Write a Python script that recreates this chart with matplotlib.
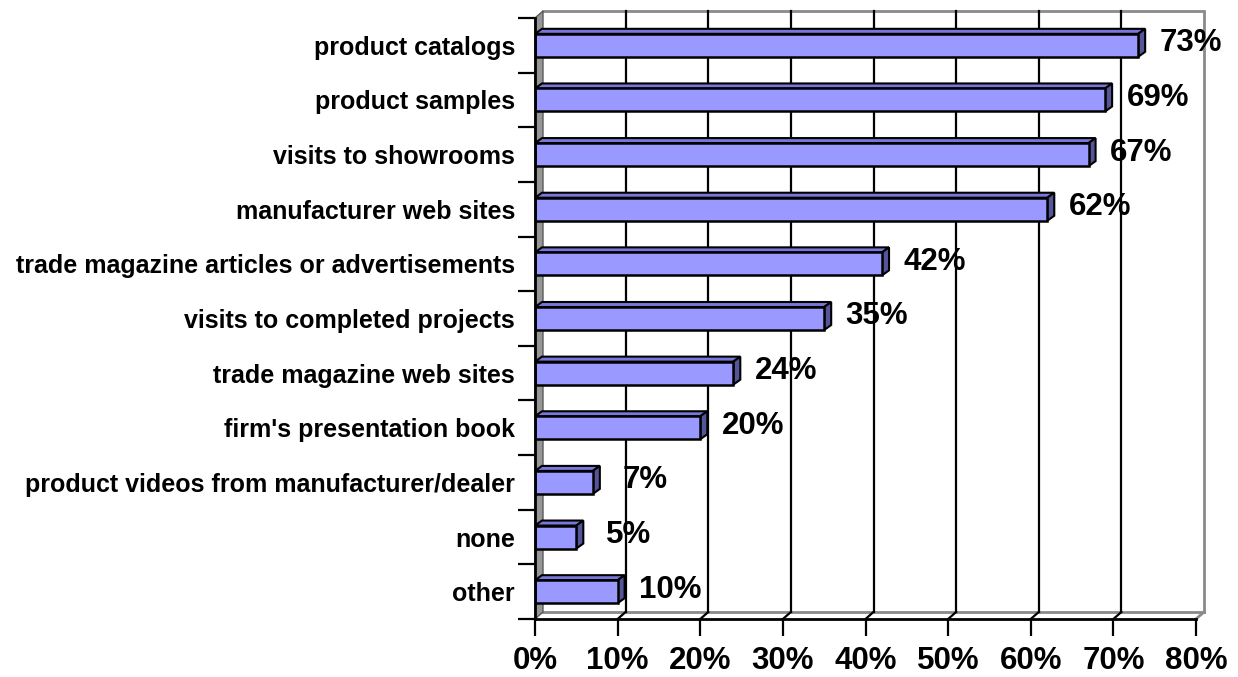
import matplotlib
matplotlib.use("Agg")
import matplotlib.pyplot as plt
from matplotlib.patches import Polygon, Rectangle

plt.rcParams['font.family'] = ['Liberation Sans', 'DejaVu Sans']
plt.rcParams['font.weight'] = 'bold'

categories = [
    "product catalogs",
    "product samples",
    "visits to showrooms",
    "manufacturer web sites",
    "trade magazine articles or advertisements",
    "visits to completed projects",
    "trade magazine web sites",
    "firm's presentation book",
    "product videos from manufacturer/dealer",
    "none",
    "other",
]
values = [73, 69, 67, 62, 42, 35, 24, 20, 7, 5, 10]
x_ticks = [0, 10, 20, 30, 40, 50, 60, 70, 80]
x_tick_labels = [f"{t}%" for t in x_ticks]

W, H = 1238, 677
fig = plt.figure(figsize=(W / 100, H / 100), dpi=100)
ax_l, ax_r, ax_t, ax_b = 535, 1196, 18, 619
ax = fig.add_axes([ax_l / W, (H - ax_b) / H, (ax_r - ax_l) / W, (ax_b - ax_t) / H])

n = len(categories)
xmax = 80
ax.set_xlim(0, xmax)
ax.set_ylim(0, n)

# pixel -> data unit conversion for the 3D depth offsets
sx = xmax / (ax_r - ax_l)
sy = n / (ax_b - ax_t)
wdx, wdy = 8 * sx, 7 * sy      # wall depth
bdx, bdy = 7 * sx, 5 * sy      # bar depth
half = 11.5 * sy               # half bar thickness

wall_grey = "#8a8a8a"

# back wall
ax.add_patch(Rectangle((wdx, wdy), xmax, n, facecolor="white", edgecolor="none",
                       zorder=0, clip_on=False))
ax.plot([wdx, xmax + wdx, xmax + wdx], [n + wdy, n + wdy, wdy], color=wall_grey,
        lw=2, zorder=1, clip_on=False, solid_joinstyle="miter")
ax.plot([wdx, xmax + wdx], [wdy, wdy], color=wall_grey, lw=2, zorder=1, clip_on=False)
ax.plot([xmax, xmax + wdx], [0, wdy], color=wall_grey, lw=2, zorder=1, clip_on=False)

# gridlines on the back wall and across the floor
for t in x_ticks[1:-1]:
    ax.plot([t + wdx, t + wdx], [wdy, n + wdy], color="black", lw=1.6, zorder=1.5,
            clip_on=False)
    ax.plot([t, t + wdx], [0, wdy], color="black", lw=1.6, zorder=1.5, clip_on=False)

# left side wall
ax.add_patch(Polygon([(0, 0), (wdx, wdy), (wdx, n + wdy), (0, n)], closed=True,
                     facecolor="#969696", edgecolor="#5a5a5a", lw=1, zorder=2,
                     clip_on=False))

# bars: front face plus top and side faces
ypos = [n - 1 - i + 0.5 for i in range(n)]
ax.barh(ypos, values, height=2 * half, color="#9999FF", edgecolor="black",
        linewidth=1.8, zorder=4)
for y, v in zip(ypos, values):
    top = y + half
    bot = y - half
    ax.add_patch(Polygon([(0, top), (v, top), (v + bdx, top + bdy), (bdx, top + bdy)],
                         closed=True, facecolor="#7878DC", edgecolor="black",
                         lw=1.5, zorder=3.5, clip_on=False))
    ax.add_patch(Polygon([(v, bot), (v, top), (v + bdx, top + bdy), (v + bdx, bot + bdy)],
                         closed=True, facecolor="#55559A", edgecolor="black",
                         lw=1.5, zorder=3.5, clip_on=False))
    ax.annotate(f"{v}%", xy=(v, y), xytext=(38, 1.5), textcoords="offset points",
                ha="center", va="center", fontsize=22.5, fontweight="bold",
                zorder=6, annotation_clip=False)

# axes, ticks and labels
for side in ("top", "right"):
    ax.spines[side].set_visible(False)
for side in ("left", "bottom"):
    ax.spines[side].set_linewidth(2)
    ax.spines[side].set_zorder(5)

ax.set_xticks(x_ticks)
ax.set_xticklabels(x_tick_labels, fontsize=22.5, fontweight="bold")
ax.tick_params(axis="x", direction="out", length=12.2, width=1.6, pad=7)

ax.set_yticks(range(n + 1))
ax.set_yticklabels([])
ax.tick_params(axis="y", which="major", direction="out", length=12.2, width=1.6)
ax.set_yticks(ypos, minor=True)
ax.set_yticklabels(categories, minor=True, fontsize=18, fontweight="bold")
ax.tick_params(axis="y", which="minor", length=0, pad=14.4)

ax.set_facecolor("none")
fig.savefig("out.png", dpi=100)
